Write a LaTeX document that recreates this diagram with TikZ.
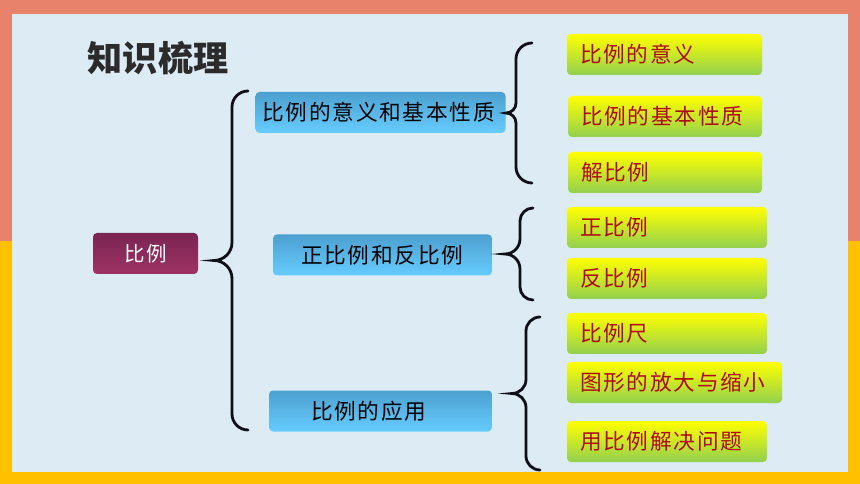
\documentclass[tikz,border=0pt]{standalone}
\usepackage{fontspec}
\newfontfamily\cjk{Noto Sans CJK SC}[LetterSpace=8]
\newfontfamily\cjktitle{Noto Sans CJK SC}
\usetikzlibrary{calc}

\newlength{\px}
\setlength{\px}{0.03cm}

\definecolor{salmon}{RGB}{232,130,106}
\definecolor{goldframe}{RGB}{255,192,0}
\definecolor{panel}{RGB}{220,235,244}
\definecolor{titlegray}{RGB}{43,43,43}
\definecolor{maroonT}{RGB}{122,36,82}
\definecolor{maroonB}{RGB}{158,51,100}
\definecolor{blueT}{RGB}{76,160,207}
\definecolor{blueB}{RGB}{102,204,255}
\definecolor{greenT}{RGB}{255,255,0}
\definecolor{greenB}{RGB}{146,208,80}
\definecolor{leafred}{RGB}{175,10,20}
\definecolor{braceblack}{RGB}{15,15,25}

\begin{document}
\begin{tikzpicture}[x=0.03cm, y=-0.03cm,
  box/.style={rounded corners=4\px, minimum height=41\px, inner ysep=0pt,
    font=\cjk\fontsize{18.5}{21}\selectfont},
  rootbox/.style={box, top color=maroonT, bottom color=maroonB, text=white,
    minimum width=105\px, font=\cjk\fontsize{17.5}{21}\selectfont},
  midbox/.style 2 args={box, top color=blueT, bottom color=blueB, text=black,
    align=left, inner xsep=#1\px, text width=#2\px},
  leafbox/.style={box, top color=greenT, bottom color=greenB, text=leafred,
    align=left, inner xsep=13\px, text width=#1\px},
  brace line/.style={line width=2.4pt, line cap=round, draw=braceblack}]

% Curly bracket: top end, bottom end, corner size, tip size
\newcommand{\curly}[4]{
  \coordinate (#1#2) at ($(#1)!0.5!(#2)$);
  \draw[brace line] (#1) .. controls +(-0.55*#3,0) and +(0,-0.55*#3) .. ($(#1)+(-#3,#3)$)
    -- ($(#1#2)+(-#3,-#4)$) .. controls +(0,0.55*#4) and +(0.55*#4,0) .. ($(#1#2)+(-#3-#4,0)$)
    .. controls +(0.55*#4,0) and +(0,-0.55*#4) .. ($(#1#2)+(-#3,#4)$)
    -- ($(#2)+(-#3,-#3)$) .. controls +(0,0.55*#3) and +(-0.55*#3,0) .. (#2);
}

\useasboundingbox (0,0) rectangle (860,484);

% Frame and panel
\fill[salmon] (0,0) rectangle (860,241);
\fill[goldframe] (0,241) rectangle (860,484);
\fill[panel] (12,14) rectangle (848,472);

% Title
\node[text=titlegray, font=\cjktitle\bfseries\fontsize{30}{33}\selectfont] (Title) at (158,58) {知识梳理};

% Root
\node[rootbox] (Root) at (145.5,253.5) {比例};

% Middle level
\node[midbox={7}{236}] (M1) at (380.5,112.5) {比例的意义和基本性质};
\node[midbox={28}{163}] (M2) at (382.5,255) {正比例和反比例};
\node[midbox={42}{139}] (M3) at (380.5,411) {比例的应用};

% Leaves
\node[leafbox=169] (L1) at (664.5,54.5) {比例的意义};
\node[leafbox=168] (L2) at (665,116.5) {比例的基本性质};
\node[leafbox=168] (L3) at (665,172.5) {解比例};
\node[leafbox=174] (L4) at (667,227.5) {正比例};
\node[leafbox=174] (L5) at (667,278.5) {反比例};
\node[leafbox=174] (L6) at (667,333.5) {比例尺};
\node[leafbox=189] (L7) at (674.5,382.5) {图形的放大与缩小};
\node[leafbox=174] (L8) at (667,441.5) {用比例解决问题};

% Brace ends
\coordinate (BigT) at (248,91);
\coordinate (BigB) at (248,430);
\coordinate (AT) at (532,43);
\coordinate (AB) at (532,183);
\coordinate (BT) at (533,208);
\coordinate (BB) at (533,300);
\coordinate (CT) at (540,317);
\coordinate (CB) at (540,470);

% Braces
\curly{BigT}{BigB}{16}{18}
\curly{AT}{AB}{16}{10}
\curly{BT}{BB}{13}{15}
\curly{CT}{CB}{14}{14}

\end{tikzpicture}
\end{document}
